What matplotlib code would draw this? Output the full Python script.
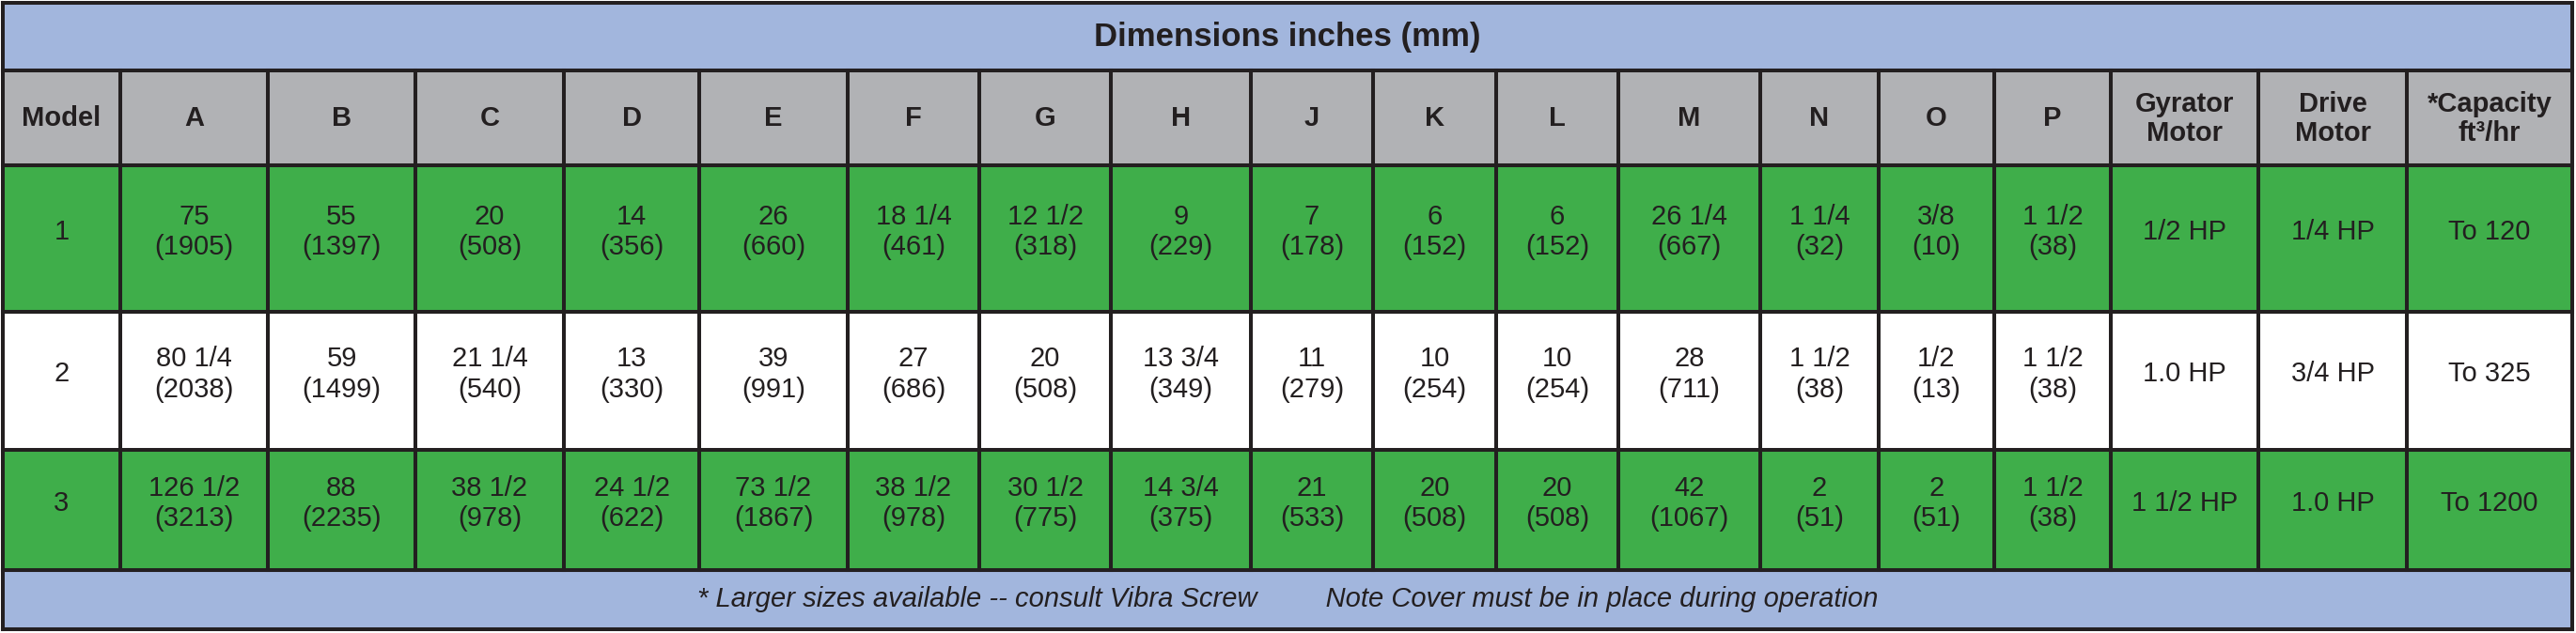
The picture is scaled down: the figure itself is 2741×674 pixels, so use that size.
import matplotlib
matplotlib.use("Agg")
import matplotlib.pyplot as plt
from matplotlib.patches import Rectangle

plt.rcParams['font.family'] = ['Liberation Sans', 'DejaVu Sans']

# table content
title = 'Dimensions inches (mm)'
footer = '* Larger sizes available -- consult Vibra Screw         Note Cover must be in place during operation'
headers = ['Model', 'A', 'B', 'C', 'D', 'E', 'F', 'G', 'H', 'J', 'K', 'L', 'M',
           'N', 'O', 'P', 'Gyrator\nMotor', 'Drive\nMotor', '*Capacity\nft³/hr']
models = ['1', '2', '3']
inches_1 = ['75', '55', '20', '14', '26', '18 1/4', '12 1/2', '9', '7', '6', '6',
            '26 1/4', '1 1/4', '3/8', '1 1/2']
mm_1 = [1905, 1397, 508, 356, 660, 461, 318, 229, 178, 152, 152, 667, 32, 10, 38]
inches_2 = ['80 1/4', '59', '21 1/4', '13', '39', '27', '20', '13 3/4', '11', '10',
            '10', '28', '1 1/2', '1/2', '1 1/2']
mm_2 = [2038, 1499, 540, 330, 991, 686, 508, 349, 279, 254, 254, 711, 38, 13, 38]
inches_3 = ['126 1/2', '88', '38 1/2', '24 1/2', '73 1/2', '38 1/2', '30 1/2',
            '14 3/4', '21', '20', '20', '42', '2', '2', '1 1/2']
mm_3 = [3213, 2235, 978, 622, 1867, 978, 775, 375, 533, 508, 508, 1067, 51, 51, 38]
gyrator = ['1/2 HP', '1.0 HP', '1 1/2 HP']
drive = ['1/4 HP', '3/4 HP', '1.0 HP']
capacity = ['To 120', 'To 325', 'To 1200']

# layout (pixels)
W, H = 2741, 674
col_x = [3, 128, 285, 442, 600, 744, 902, 1042, 1182, 1331, 1461, 1592, 1722,
         1873, 1999, 2122, 2246, 2403, 2561, 2737]
row_y = [3, 75, 176, 332, 479, 607, 670]

blue = '#a2b6dd'
grey = '#b1b2b5'
green = '#3fae4a'
ink = '#231f20'
row_colors = [green, 'white', green]
lw = 2.9

fig = plt.figure(figsize=(W / 100, H / 100), dpi=100)
ax = fig.add_axes([0, 0, 1, 1])
ax.set_xlim(0, W)
ax.set_ylim(H, 0)
ax.axis('off')

x0, x1 = col_x[0], col_x[-1]

# title and footer bands
ax.add_patch(Rectangle((x0, row_y[0]), x1 - x0, row_y[1] - row_y[0], fc=blue, ec='none'))
ax.add_patch(Rectangle((x0, row_y[5]), x1 - x0, row_y[6] - row_y[5], fc=blue, ec='none'))
ax.text((x0 + x1) / 2, (row_y[0] + row_y[1]) / 2 + 1, title, ha='center', va='center',
        fontsize=25, fontweight='bold', color=ink)
ax.text((x0 + x1) / 2, (row_y[5] + row_y[6]) / 2, footer, ha='center', va='center',
        fontsize=21, fontstyle='italic', color=ink)

# header row
ax.add_patch(Rectangle((x0, row_y[1]), x1 - x0, row_y[2] - row_y[1], fc=grey, ec='none'))
for j, h in enumerate(headers):
    cx = (col_x[j] + col_x[j + 1]) / 2
    ax.text(cx, (row_y[1] + row_y[2]) / 2 + 1, h, ha='center', va='center',
            fontsize=21, fontweight='bold', color=ink, linespacing=1.15)

# data rows
inches = [inches_1, inches_2, inches_3]
mms = [mm_1, mm_2, mm_3]
for i in range(3):
    top, bot = row_y[i + 2], row_y[i + 3]
    cy = (top + bot) / 2
    ax.add_patch(Rectangle((x0, top), x1 - x0, bot - top, fc=row_colors[i], ec='none'))
    cells = [models[i]] + [f'{a}\n({b})' for a, b in zip(inches[i], mms[i])] + \
            [gyrator[i], drive[i], capacity[i]]
    for j, c in enumerate(cells):
        cx = (col_x[j] + col_x[j + 1]) / 2
        ax.text(cx, cy - 7, c, ha='center', va='center', fontsize=21, color=ink,
                linespacing=1.2)

# grid lines
for y in row_y:
    ax.plot([x0, x1], [y, y], color=ink, lw=lw, solid_capstyle='projecting')
for k, x in enumerate(col_x):
    if k == 0 or k == len(col_x) - 1:
        ax.plot([x, x], [row_y[0], row_y[-1]], color=ink, lw=lw, solid_capstyle='projecting')
    else:
        ax.plot([x, x], [row_y[1], row_y[5]], color=ink, lw=lw, solid_capstyle='projecting')

fig.savefig('out.png', dpi=100, facecolor='white')
